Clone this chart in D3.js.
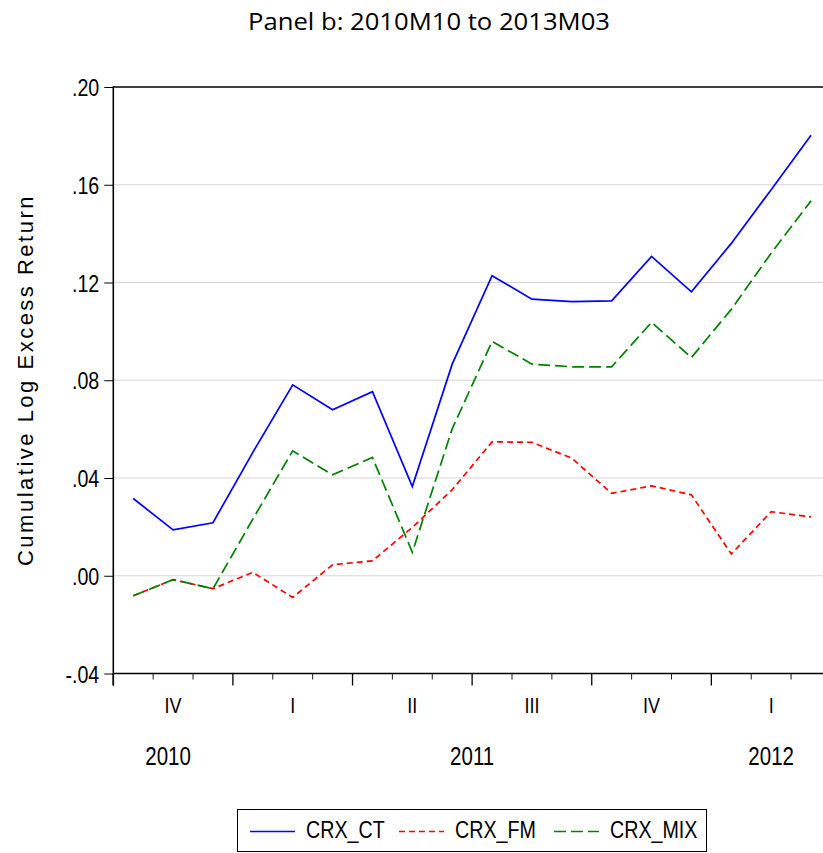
<!DOCTYPE html>
<html>
<head>
<meta charset="utf-8">
<script src="https://cdn.jsdelivr.net/npm/d3@7"></script>
<style>
  body { margin: 0; background: #fff; }
  svg { display: block; }
  .narrow { font-family: "Liberation Sans", Arial, sans-serif; }
</style>
</head>
<body>
<script>
'use strict';

// monthly observations, 2010M10 .. 2012M03
let months = ["2010M10","2010M11","2010M12","2011M01","2011M02","2011M03",
  "2011M04","2011M05","2011M06","2011M07","2011M08","2011M09",
  "2011M10","2011M11","2011M12","2012M01","2012M02","2012M03"];

let crxCT = [0.0316, 0.0188, 0.0217, 0.0505, 0.0781, 0.0679, 0.0753, 0.0365, 0.0866,
  0.1228, 0.1132, 0.1122, 0.1125, 0.1307, 0.1162, 0.1360, 0.1580, 0.1803];
let crxFM = [-0.0082, -0.0016, -0.0053, 0.0014, -0.0089, 0.0045, 0.0061, 0.0198, 0.0352,
  0.0548, 0.0546, 0.0481, 0.0337, 0.0368, 0.0331, 0.0089, 0.0262, 0.0241];
let crxMIX = [-0.0082, -0.0016, -0.0053, 0.0232, 0.0511, 0.0413, 0.0484, 0.0096, 0.0601,
  0.0959, 0.0866, 0.0855, 0.0855, 0.1037, 0.0893, 0.1090, 0.1320, 0.1534];

let yTicks = [-0.04, 0.00, 0.04, 0.08, 0.12, 0.16, 0.20];
let quarterLabels = ["IV", "I", "II", "III", "IV", "I"];
let yearLabels = [{year: "2010", from: 0, to: 3}, {year: "2011", from: 3, to: 15}, {year: "2012", from: 15, to: 18}];

let seriesNames = ["CRX_CT", "CRX_FM", "CRX_MIX"];
let seriesColors = ["#0000ff", "#ff0000", "#008000"];
let seriesDash = [null, "6,4", "12,5"];

let width = 823, height = 853;
let plot = {left: 113.3, top: 87, bottom: 673.5, month: 39.87};
let squeeze = 0.82; // narrow look of the axis font

let svg = d3.select("body").append("svg")
  .attr("width", width)
  .attr("height", height);

// x in months from start of 2010M10, y in log return
let x = d3.scaleLinear()
  .domain([0, months.length])
  .range([plot.left, plot.left + months.length * plot.month]);
let y = d3.scaleLinear()
  .domain([-0.04, 0.20])
  .range([plot.bottom, plot.top]);

// place condensed text at (px, py)
function narrowText(sel, px, py) {
  sel.attr("class", "narrow")
    .attr("x", 0)
    .attr("y", 0)
    .attr("transform", (d, i) => "translate(" + px(d, i) + "," + py(d, i) + ")scale(" + squeeze + ",1)");
}

// title
svg.append("text")
  .attr("x", 429)
  .attr("y", 30)
  .attr("text-anchor", "middle")
  .attr("textLength", 362)
  .attr("lengthAdjust", "spacingAndGlyphs")
  .style("font-family", "'Open Sans', 'Noto Sans', sans-serif")
  .style("font-size", "24px")
  .text("Panel b: 2010M10 to 2013M03");

// gridlines
svg.append("g")
  .selectAll("line")
  .data(yTicks.filter((d) => d > -0.04 && d < 0.20))
  .enter()
  .append("line")
    .attr("x1", plot.left)
    .attr("x2", width)
    .attr("y1", (d) => y(d))
    .attr("y2", (d) => y(d))
    .attr("stroke", "#d4d4d4")
    .attr("stroke-width", 1.2);

// top frame line
svg.append("line")
  .attr("x1", plot.left).attr("x2", width)
  .attr("y1", y(0.20)).attr("y2", y(0.20))
  .attr("stroke", "#000").attr("stroke-width", 1.6);

// y axis
let yAxis = d3.axisLeft(y)
  .tickValues(yTicks)
  .tickSize(9)
  .tickPadding(5)
  .tickFormat((d) => d3.format(".2f")(d).replace("0.", ".").replace("\u2212", "-"));
let gy = svg.append("g")
  .attr("transform", "translate(" + plot.left + ",0)")
  .call(yAxis);
gy.select(".domain").remove();
gy.append("line")
  .attr("x1", 0).attr("x2", 0)
  .attr("y1", y(0.20) - 0.8).attr("y2", plot.bottom + 12)
  .attr("stroke", "#000").attr("stroke-width", 1.6);
gy.selectAll(".tick line").attr("stroke", "#000").attr("stroke-width", 1);
gy.selectAll(".tick text")
  .attr("class", "narrow")
  .attr("x", -14 / squeeze)
  .attr("dy", "0.36em")
  .attr("transform", "scale(" + squeeze + ",1)")
  .style("font-size", "24px")
  .attr("fill", "#000");

// x axis: month ticks, long at quarter boundaries
let monthTicks = d3.range(0, months.length);
svg.append("line")
  .attr("x1", plot.left).attr("x2", width)
  .attr("y1", plot.bottom).attr("y2", plot.bottom)
  .attr("stroke", "#000").attr("stroke-width", 1.6);
svg.append("g")
  .selectAll("line")
  .data(monthTicks)
  .enter()
  .append("line")
    .attr("x1", (d) => x(d))
    .attr("x2", (d) => x(d))
    .attr("y1", plot.bottom)
    .attr("y2", (d) => plot.bottom + (d % 3 == 0 ? 12 : 6))
    .attr("stroke", "#000")
    .attr("stroke-width", (d) => d % 3 == 0 ? 1.3 : 0.9);

svg.append("g")
  .selectAll("text")
  .data(quarterLabels)
  .enter()
  .append("text")
    .call(narrowText, (d, i) => x(i * 3 + 1.5), () => 713)
    .attr("text-anchor", "middle")
    .style("font-size", "22px")
    .text((d) => d);

svg.append("g")
  .selectAll("text")
  .data(yearLabels)
  .enter()
  .append("text")
    .call(narrowText, (d) => (x(d.from) + x(d.to)) / 2 - (d.from == 0 ? 5 : 0), () => 765)
    .attr("text-anchor", "middle")
    .style("font-size", "25px")
    .text((d) => d.year);

// y axis title
svg.append("text")
  .attr("transform", "translate(33, 380)rotate(-90)")
  .attr("text-anchor", "middle")
  .style("font-family", "'Liberation Sans', Arial, sans-serif")
  .style("font-size", "22px")
  .style("letter-spacing", "2.5px")
  .text("Cumulative Log Excess Return");

// series lines
let allSeries = [crxCT, crxFM, crxMIX];
let line = d3.line()
  .x((d, i) => x(i + 0.5))
  .y((d) => y(d));

let drawOrder = [1, 2, 0];
drawOrder.forEach((k) => {
  svg.append("path")
    .datum(allSeries[k])
    .attr("fill", "none")
    .attr("stroke", seriesColors[k])
    .attr("stroke-width", 1.7)
    .attr("stroke-dasharray", seriesDash[k])
    .attr("stroke-linejoin", "miter")
    .attr("d", line);
});

// legend
let legend = svg.append("g");
legend.append("rect")
  .attr("x", 237.5).attr("y", 809.5)
  .attr("width", 469).attr("height", 42)
  .attr("fill", "#fff")
  .attr("stroke", "#000")
  .attr("stroke-width", 1);

let legendX = [250, 399, 554];
seriesNames.forEach((name, k) => {
  legend.append("line")
    .attr("x1", legendX[k]).attr("x2", legendX[k] + 45)
    .attr("y1", 831.5).attr("y2", 831.5)
    .attr("stroke", seriesColors[k])
    .attr("stroke-width", 1.7)
    .attr("stroke-dasharray", seriesDash[k]);
  legend.append("text")
    .datum(name)
    .call(narrowText, () => legendX[k] + 56, () => 838)
    .style("font-size", "24px")
    .text(name);
});
</script>
</body>
</html>
